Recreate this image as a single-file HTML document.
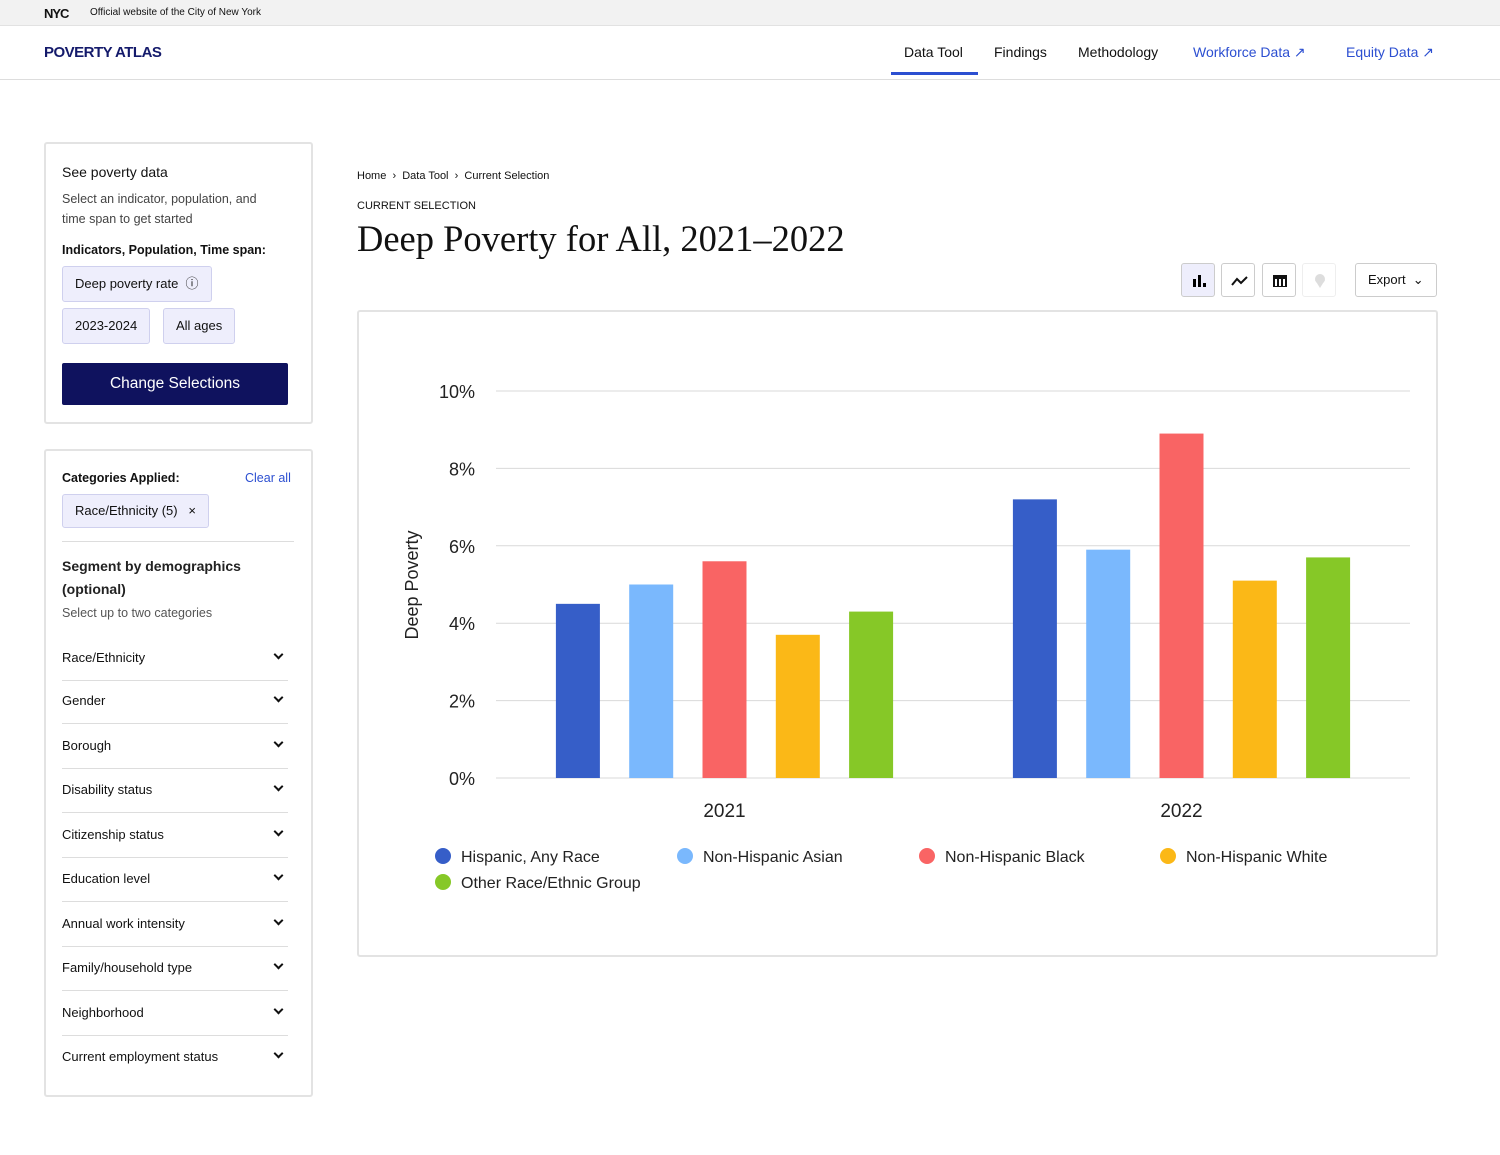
<!DOCTYPE html>
<html><head><meta charset="utf-8">
<style>
*{box-sizing:border-box;margin:0;padding:0}
body{width:1500px;height:1155px;background:#fff;font-family:"Liberation Sans",sans-serif;color:#111;position:relative;overflow:hidden}
.abs{position:absolute}
.topbar{left:0;top:0;width:1500px;height:26px;background:#f2f2f2;border-bottom:1px solid #e2e2e2}
.nav{left:0;top:26px;width:1500px;height:54px;border-bottom:1px solid #ddd}
.navlink{top:44px;font-size:14px;color:#111}
.panel{border:2px solid #e3e3e3;border-radius:3px}
.chip{background:#eeeefc;border:1px solid #cfd0ee;border-radius:3px;font-size:13px;padding:0 12px;height:36px;line-height:34px;position:absolute}
.dd{position:absolute;left:62px;width:226px;font-size:13px;border-bottom:1px solid #ddd;height:45px}
.dd span{position:absolute;left:0;top:14px}
.dd i{position:absolute;right:6px;top:15px;width:7px;height:7px;border-right:2px solid #111;border-bottom:2px solid #111;transform:rotate(45deg)}
.ib{position:absolute;top:263px;width:34px;height:34px;border:1.5px solid #ccc;border-radius:3px;background:#fff}
</style></head><body>
<div class="abs topbar">
 <span class="abs" style="left:44px;top:6px;font-weight:bold;font-size:13px;letter-spacing:-1px">NYC</span>
 <span class="abs" style="left:90px;top:7px;font-size:10px">Official website of the City of New York</span>
</div>
<div class="abs nav">
 <span class="abs" style="left:44px;top:18px;font-weight:bold;font-size:15px;color:#141a6b;letter-spacing:-0.5px">POVERTY ATLAS</span>
</div>
<span class="abs navlink" style="left:904px">Data Tool</span>
<div class="abs" style="left:891px;top:72px;width:87px;height:3px;background:#2c4fd1"></div>
<span class="abs navlink" style="left:994px">Findings</span>
<span class="abs navlink" style="left:1078px">Methodology</span>
<span class="abs navlink" style="left:1193px;color:#2c4fd1">Workforce Data ↗</span>
<span class="abs navlink" style="left:1346px;color:#2c4fd1">Equity Data ↗</span>

<div class="abs panel" style="left:44px;top:142px;width:269px;height:282px"></div>
<span class="abs" style="left:62px;top:164px;font-size:14px">See poverty data</span>
<span class="abs" style="left:62px;top:189px;font-size:12.5px;color:#444;line-height:20px;width:220px">Select an indicator, population, and time span to get started</span>
<span class="abs" style="left:62px;top:243px;font-size:12.5px;font-weight:bold">Indicators, Population, Time span:</span>
<div class="chip" style="left:62px;top:266px">Deep poverty rate &nbsp;ⓘ</div>
<div class="chip" style="left:62px;top:308px">2023-2024</div>
<div class="chip" style="left:163px;top:308px">All ages</div>
<div class="abs" style="left:62px;top:363px;width:226px;height:42px;background:#0f125e;color:#fff;font-size:15.5px;text-align:center;line-height:42px;border-radius:2px">Change Selections</div>

<div class="abs panel" style="left:44px;top:449px;width:269px;height:648px"></div>
<span class="abs" style="left:62px;top:471px;font-size:12.5px;font-weight:bold">Categories Applied:</span>
<span class="abs" style="left:245px;top:471px;font-size:12.5px;color:#2c4fd1">Clear all</span>
<div class="chip" style="left:62px;top:494px;height:34px;line-height:32px">Race/Ethnicity (5) &nbsp;&nbsp;×</div>
<div class="abs" style="left:62px;top:541px;width:232px;height:1px;background:#ddd"></div>
<span class="abs" style="left:62px;top:555px;font-size:14px;line-height:23px;font-weight:600;color:#222;width:200px">Segment by demographics (optional)</span>
<span class="abs" style="left:62px;top:606px;font-size:12.5px;color:#555">Select up to two categories</span>
<div class="dd" style="top:636px"><span>Race/Ethnicity</span><i></i></div>
<div class="dd" style="top:679px"><span>Gender</span><i></i></div>
<div class="dd" style="top:724px"><span>Borough</span><i></i></div>
<div class="dd" style="top:768px"><span>Disability status</span><i></i></div>
<div class="dd" style="top:813px"><span>Citizenship status</span><i></i></div>
<div class="dd" style="top:857px"><span>Education level</span><i></i></div>
<div class="dd" style="top:902px"><span>Annual work intensity</span><i></i></div>
<div class="dd" style="top:946px"><span>Family/household type</span><i></i></div>
<div class="dd" style="top:991px"><span>Neighborhood</span><i></i></div>
<div class="dd" style="top:1035px;border-bottom:none"><span>Current employment status</span><i></i></div>

<span class="abs" style="left:357px;top:170px;font-size:11px">Home &nbsp;›&nbsp; Data Tool &nbsp;›&nbsp; Current Selection</span>
<span class="abs" style="left:357px;top:200px;font-size:11px">CURRENT SELECTION</span>
<span class="abs" style="left:357px;top:217px;font-size:36.5px;font-family:'Liberation Serif',serif">Deep Poverty for All, 2021–2022</span>

<div class="ib" style="left:1181px;background:#eeeefc">
 <svg width="34" height="34"><rect x="11" y="15" width="3" height="8"/><rect x="16" y="11" width="3" height="12"/><rect x="21" y="19" width="3" height="4"/></svg></div>
<div class="ib" style="left:1221px">
 <svg width="34" height="34"><polyline points="10,21 15,15 19,19 25,13" fill="none" stroke="#111" stroke-width="2"/></svg></div>
<div class="ib" style="left:1262px">
 <svg width="34" height="34"><rect x="10" y="11" width="14" height="12" fill="#111"/><rect x="12" y="15" width="2" height="7" fill="#fff"/><rect x="16" y="15" width="2" height="7" fill="#fff"/><rect x="20" y="15" width="2" height="7" fill="#fff"/></svg></div>
<div class="ib" style="left:1302px;border-color:#eee">
 <svg width="34" height="34"><circle cx="17" cy="15" r="5" fill="#ddd"/><polygon points="12,16 22,16 17,24" fill="#ddd"/></svg></div>
<div class="ib" style="left:1355px;width:82px;font-size:13px;line-height:32px;padding-left:12px">Export &nbsp;⌄</div>

<div class="abs panel" style="left:357px;top:310px;width:1081px;height:647px"></div>
<svg class="abs" id="chart" style="left:0;top:0" width="1500" height="1155"></svg>
<script>
const categories=["2021","2022"];
const seriesNames=["Hispanic, Any Race","Non-Hispanic Asian","Non-Hispanic Black","Non-Hispanic White","Other Race/Ethnic Group"];
const hispanic=[4.5,7.2];
const asian=[5.0,5.9];
const black=[5.6,8.9];
const white=[3.7,5.1];
const other=[4.3,5.7];
const yTicks=[0,2,4,6,8,10];
const colors=["#365ec8","#7ab8fd","#f96464","#fbb817","#86c827"];
const series=[hispanic,asian,black,white,other];
const NS="http://www.w3.org/2000/svg";
const svg=document.getElementById('chart');
const X0=496,X1=1410,Y0=778,Y1=391;
const yS=v=>Y0-(v-0)/(10-0)*(Y0-Y1);
const band=(X1-X0)/categories.length;
const xC=i=>X0+band*(i+0.5);
function mk(t,a){const e=document.createElementNS(NS,t);for(const k in a)e.setAttribute(k,a[k]);svg.appendChild(e);return e;}
yTicks.forEach(t=>{
 const l=mk('line',{x1:X0,x2:X1,y1:yS(t),y2:yS(t),stroke:'#d9d9d9','stroke-width':1});
 
 
 const tx=mk('text',{x:475,y:yS(t)+7,'text-anchor':'end','font-size':18,fill:'#222','font-family':'Liberation Sans'});
 tx.textContent=t+'%';
 
 
});
const yt=mk('text',{x:0,y:0,transform:'translate(418,585) rotate(-90)','text-anchor':'middle','font-size':18,fill:'#222','font-family':'Liberation Sans'});
yt.textContent='Deep Poverty';


const step=73.3,bw=44;
categories.forEach((c,i)=>{
 series.forEach((s,j)=>{
  const cx=xC(i)+(j-2)*step;
  const r=mk('rect',{x:cx-bw/2,y:yS(s[i]),width:bw,height:yS(0)-yS(s[i]),fill:colors[j]});
  
  
 });
 const t=mk('text',{x:xC(i),y:817,'text-anchor':'middle','font-size':19,fill:'#222','font-family':'Liberation Sans'});
 t.textContent=c;
 
 
});
const lx=[443,685,927,1168,443],ly=[856,856,856,856,882];
seriesNames.forEach((n,j)=>{
 const c=mk('circle',{cx:lx[j],cy:ly[j],r:8,fill:colors[j]});
 
 
 const t=mk('text',{x:lx[j]+18,y:ly[j]+6,'font-size':16,fill:'#222','font-family':'Liberation Sans'});
 t.textContent=n;
 
 
});
</script>
</body></html>
